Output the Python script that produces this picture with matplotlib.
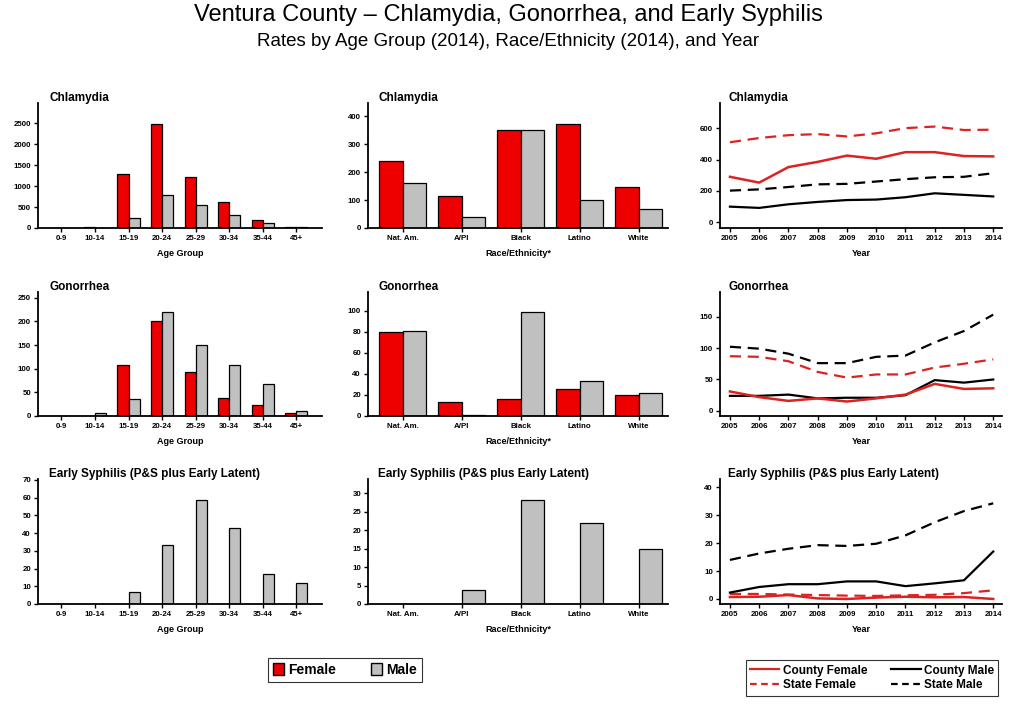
import matplotlib.pyplot as plt
from matplotlib.patches import Patch
from matplotlib.lines import Line2D
import numpy as np

# ---- data ----
age_groups = ["0-9", "10-14", "15-19", "20-24", "25-29", "30-34", "35-44", "45+"]
races = ["Nat. Am.", "A/PI", "Black", "Latino", "White"]
years = [2005, 2006, 2007, 2008, 2009, 2010, 2011, 2012, 2013, 2014]

chl_age_f = [5, 30, 1280, 2480, 1210, 630, 200, 30]
chl_age_m = [5, 5, 230, 790, 560, 310, 110, 25]
chl_race_f = [240, 113, 352, 374, 146]
chl_race_m = [162, 38, 352, 102, 67]
chl_cty_f = [290, 253, 352, 385, 425, 405, 447, 447, 422, 420]
chl_cty_m = [100, 92, 115, 130, 142, 145, 160, 185, 175, 165]
chl_st_f = [510, 537, 555, 562, 547, 567, 600, 610, 588, 590]
chl_st_m = [202, 210, 225, 242, 245, 260, 275, 287, 290, 313]

gon_age_f = [0, 1, 108, 200, 93, 38, 23, 7]
gon_age_m = [0, 7, 35, 219, 151, 107, 67, 10]
gon_race_f = [80, 13, 16, 26, 20]
gon_race_m = [81, 0.5, 99, 33, 22]
gon_cty_f = [31, 22, 16, 20, 15, 20, 26, 43, 35, 36]
gon_cty_m = [24, 24, 26, 20, 21, 21, 25, 49, 45, 50]
gon_st_f = [87, 86, 79, 62, 53, 58, 58, 69, 75, 82]
gon_st_m = [102, 99, 91, 76, 76, 86, 88, 109, 127, 153]

syp_age_f = [0, 0, 0, 0, 0, 0, 0, 0]
syp_age_m = [0, 0, 6.5, 33.5, 58.5, 43, 17, 12]
syp_race_f = [0, 0, 0, 0, 0]
syp_race_m = [0, 3.8, 28.2, 21.9, 14.8]
syp_cty_f = [0.7, 0.8, 1.4, 0.2, 0.0, 0.5, 0.8, 0.6, 0.7, 0.0]
syp_cty_m = [2.3, 4.3, 5.3, 5.3, 6.3, 6.3, 4.6, 5.6, 6.7, 17.0]
syp_st_f = [1.8, 1.8, 1.6, 1.4, 1.2, 1.1, 1.3, 1.5, 2.1, 3.1]
syp_st_m = [14.0, 16.3, 18.0, 19.3, 19.0, 19.8, 22.8, 27.5, 31.5, 34.3]

RED = "#ee0000"
GREY = "#c0c0c0"
FONT = "Liberation Sans"
W, H = 1017, 705

plt.rcParams["font.family"] = [FONT, "DejaVu Sans"]
fig = plt.figure(figsize=(W / 100, H / 100), dpi=100)


def box(left, top, right, bottom):
    return [left / W, 1 - bottom / H, (right - left) / W, (bottom - top) / H]


def style(ax, title, xlabel, ylim, yticks, tx):
    for s in ("top", "right"):
        ax.spines[s].set_visible(False)
    for s in ("left", "bottom"):
        ax.spines[s].set_linewidth(1.3)
    ax.set_ylim(*ylim)
    ax.set_yticks(yticks)
    ax.tick_params(axis="both", labelsize=5.7, length=3, width=1, pad=2)
    for lab in ax.get_xticklabels() + ax.get_yticklabels():
        lab.set_fontweight("bold")
    ax.set_xlabel(xlabel, fontsize=6.5, fontweight="bold", labelpad=5)
    ax.text(tx, 1.04, title, transform=ax.transAxes, fontsize=8.5,
            fontweight="bold", va="center", ha="left")


def bars(ax, cats, fvals, mvals, width, show_f=True):
    x = np.arange(len(cats))
    if show_f:
        ax.bar(x - width / 2, fvals, width, color=RED, edgecolor="black", linewidth=0.9)
    ax.bar(x + width / 2, mvals, width, color=GREY, edgecolor="black", linewidth=0.9)
    ax.set_xticks(x)
    ax.set_xticklabels(cats)
    ax.tick_params(axis="x", length=0, pad=4)


def trends(ax, cf, cm, sf, sm):
    ax.plot(years, sf, color="#dd2222", lw=1.6, ls=(0, (5, 3)))
    ax.plot(years, sm, color="black", lw=1.6, ls=(0, (5, 3)))
    ax.plot(years, cm, color="black", lw=1.6)
    ax.plot(years, cf, color="#dd2222", lw=1.8)
    ax.set_xlim(2004.66, 2014.3)
    ax.set_xticks(years)


rows = [(103, 228), (292, 416), (479, 604)]
cols = [(38, 322), (368, 668), (720, 1002)]
titles = ["Chlamydia", "Gonorrhea", "Early Syphilis (P&S plus Early Latent)"]

age_data = [(chl_age_f, chl_age_m, (0, 2980), [0, 500, 1000, 1500, 2000, 2500]),
            (gon_age_f, gon_age_m, (0, 262), [0, 50, 100, 150, 200, 250]),
            (syp_age_f, syp_age_m, (0, 70.5), [0, 10, 20, 30, 40, 50, 60, 70])]
race_data = [(chl_race_f, chl_race_m, (0, 448), [0, 100, 200, 300, 400]),
             (gon_race_f, gon_race_m, (0, 118), [0, 20, 40, 60, 80, 100]),
             (syp_race_f, syp_race_m, (0, 33.8), [0, 5, 10, 15, 20, 25, 30])]
trend_data = [(chl_cty_f, chl_cty_m, chl_st_f, chl_st_m, (-36, 760), [0, 200, 400, 600]),
              (gon_cty_f, gon_cty_m, gon_st_f, gon_st_m, (-8, 189), [0, 50, 100, 150]),
              (syp_cty_f, syp_cty_m, syp_st_f, syp_st_m, (-1.8, 43), [0, 10, 20, 30, 40])]

for r, (top, bottom) in enumerate(rows):
    # age group
    ax = fig.add_axes(box(cols[0][0], top, cols[0][1], bottom))
    f, m, yl, yt = age_data[r]
    bars(ax, age_groups, f, m, 0.33, show_f=(r < 2))
    ax.set_xlim(-0.7, 7.77)
    style(ax, titles[r], "Age Group", yl, yt, 0.04)

    # race / ethnicity
    ax = fig.add_axes(box(cols[1][0], top, cols[1][1], bottom))
    f, m, yl, yt = race_data[r]
    bars(ax, races, f, m, 0.4, show_f=(r < 2))
    ax.set_xlim(-0.59, 4.5)
    style(ax, titles[r], "Race/Ethnicity*", yl, yt, 0.035)

    # trends by year
    ax = fig.add_axes(box(cols[2][0], top, cols[2][1], bottom))
    cf, cm, sf, sm, yl, yt = trend_data[r]
    trends(ax, cf, cm, sf, sm)
    style(ax, titles[r], "Year", yl, yt, 0.03)

fig.text(0.5, 1 - 15 / H, "Ventura County \u2013 Chlamydia, Gonorrhea, and Early Syphilis",
         ha="center", va="center", fontsize=17)
fig.text(0.5, 1 - 41 / H, "Rates by Age Group (2014), Race/Ethnicity (2014), and Year",
         ha="center", va="center", fontsize=13.5)

leg_font = {"family": ["Liberation Sans Narrow", FONT], "weight": "bold", "size": 10}
h1 = [Patch(facecolor=RED, edgecolor="black"), Patch(facecolor=GREY, edgecolor="black")]
lg1 = fig.legend(h1, ["Female", "Male"], loc="center", bbox_to_anchor=(345 / W, 1 - 670 / H),
                 ncol=2, prop=leg_font, frameon=True, fancybox=False, edgecolor="black",
                 handlelength=0.8, handleheight=0.9, handletextpad=0.3, columnspacing=2.5,
                 borderpad=0.35)
lg1.get_frame().set_linewidth(0.8)

leg_font2 = {"family": ["Liberation Sans Narrow", FONT], "weight": "bold", "size": 8.5}
h2 = [Line2D([], [], color="#dd2222", lw=1.6),
      Line2D([], [], color="#dd2222", lw=1.6, ls=(0, (3, 2))),
      Line2D([], [], color="black", lw=1.6),
      Line2D([], [], color="black", lw=1.6, ls=(0, (3, 2)))]
lg2 = fig.legend(h2, ["County Female", "State Female", "County Male", "State Male"],
                 loc="center", bbox_to_anchor=(872 / W, 1 - 678 / H), ncol=2, prop=leg_font2,
                 frameon=True, fancybox=False, edgecolor="black", handlelength=2.5,
                 handletextpad=0.3, columnspacing=2.0, labelspacing=0.25, borderpad=0.35)
lg2.get_frame().set_linewidth(0.8)

fig.savefig("out.png", dpi=100)
